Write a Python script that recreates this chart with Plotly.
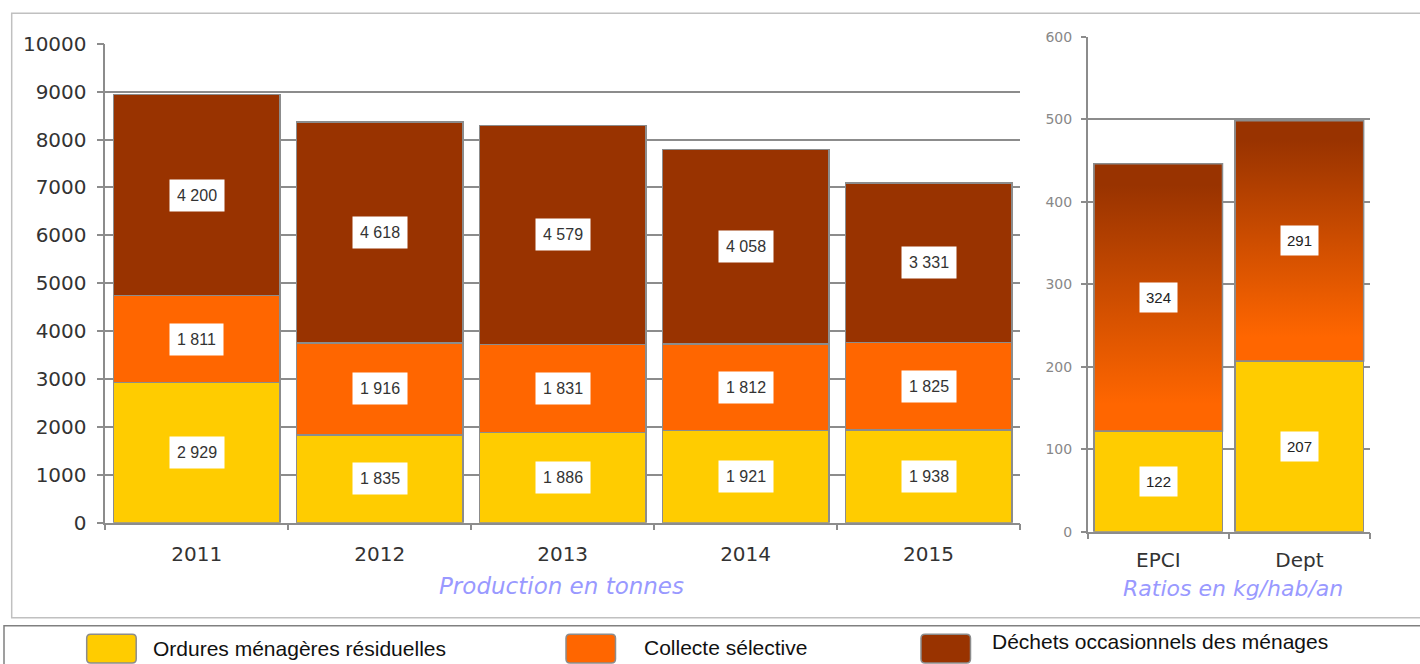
import plotly.graph_objects as go

W, H = 1420, 664

# ---------------- data ----------------
years = ['2011', '2012', '2013', '2014', '2015']
omr = [2929, 1835, 1886, 1921, 1938]          # Ordures ménagères résiduelles (t)
cs = [1811, 1916, 1831, 1812, 1825]           # Collecte sélective (t)
dom = [4200, 4618, 4579, 4058, 3331]          # Déchets occasionnels des ménages (t)

ratio_cats = ['EPCI', 'Dept']
ratio_omr = [122, 207]                        # kg/hab/an
ratio_other = [324, 291]                      # kg/hab/an

series_names = ['Ordures ménagères résiduelles', 'Collecte sélective',
                'Déchets occasionnels des ménages']
left_title = 'Production en tonnes'
right_title = 'Ratios en kg/hab/an'

# ---------------- style ----------------
YEL, ORA, BRN = '#ffcc00', '#ff6600', '#993300'
colors = [YEL, ORA, BRN]
EDGE = '#8c8c8c'
GRID = '#8c8c8c'
BARGAP = 0.09


def px(x):
    return x / W


def py(y):
    return 1 - y / H


def fmt(v):
    return f'{v:,}'.replace(',', ' ')


fig = go.Figure()

# left stacked bars
for vals, col, name in zip([omr, cs, dom], colors, series_names):
    fig.add_trace(go.Bar(x=years, y=vals, name=name, marker=dict(color=col, line=dict(color=EDGE, width=1.5)),
                         xaxis='x', yaxis='y', showlegend=False, hoverinfo='y'))

# right stacked bars
fig.add_trace(go.Bar(x=ratio_cats, y=ratio_omr, marker=dict(color=YEL, line=dict(color=EDGE, width=1.5)),
                     xaxis='x2', yaxis='y2', showlegend=False))
fig.add_trace(go.Bar(x=ratio_cats, y=ratio_other, marker=dict(color=ORA, line=dict(color=EDGE, width=1.5)),
                     xaxis='x2', yaxis='y2', showlegend=False))

# gradient overlay for right upper segments (same geometry as bars, on an overlaid numeric axis)
half = (1 - BARGAP) / 2
for i, (b, v) in enumerate(zip(ratio_omr, ratio_other)):
    top = b + v
    fig.add_trace(go.Scatter(
        x=[i - half, i + half, i + half, i - half, i - half],
        y=[b, b, top, top, b],
        mode='lines', fill='toself',
        line=dict(color=EDGE, width=1.5),
        fillgradient=dict(type='vertical',
                          colorscale=[[0, ORA], [0.1, ORA], [0.92, BRN], [1, BRN]]),
        xaxis='x3', yaxis='y2', showlegend=False, hoverinfo='skip'))

annotations = []
# left labels (x given as category index)
for i, yr in enumerate(years):
    base = 0
    for vals in (omr, cs, dom):
        v = vals[i]
        annotations.append(dict(x=i, y=base + v / 2, xref='x', yref='y', text=fmt(v), showarrow=False,
                                font=dict(family='Liberation Sans, Arial', size=16, color='#333333'),
                                bgcolor='white', borderpad=7))
        base += v
# right labels
for i, c in enumerate(ratio_cats):
    base = 0
    for vals in (ratio_omr, ratio_other):
        v = vals[i]
        annotations.append(dict(x=i, y=base + v / 2, xref='x2', yref='y2', text=fmt(v), showarrow=False,
                                font=dict(family='Liberation Sans, Arial', size=15, color='#222222'),
                                bgcolor='white', borderpad=6))
        base += v

# subtitles
annotations.append(dict(x=px(561), y=py(586), xref='paper', yref='paper', text=f'<i>{left_title}</i>',
                        showarrow=False, xanchor='center', yanchor='middle',
                        font=dict(family='DejaVu Sans', size=23, color='#9999ff')))
annotations.append(dict(x=px(1233), y=py(588), xref='paper', yref='paper', text=f'<i>{right_title}</i>',
                        showarrow=False, xanchor='center', yanchor='middle',
                        font=dict(family='DejaVu Sans', size=22, color='#9999ff')))

shapes = []
# outer frame of chart area
shapes.append(dict(type='rect', xref='paper', yref='paper', x0=px(11.7), x1=px(1430), y0=py(617.7), y1=py(13.3),
                   line=dict(color='#c0c0c0', width=1.5), layer='below'))
# legend box
shapes.append(dict(type='rect', xref='paper', yref='paper', x0=px(4), x1=px(1430), y0=py(680), y1=py(625.7),
                   line=dict(color='#808080', width=1.5), layer='below'))


def rounded(x0, y0, x1, y1, r):
    pts = [(x0 + r, y0), (x1 - r, y0), (x1, y0 + r), (x1, y1 - r), (x1 - r, y1), (x0 + r, y1), (x0, y1 - r), (x0, y0 + r)]
    p = f'M {px(pts[0][0])},{py(pts[0][1])} L {px(pts[1][0])},{py(pts[1][1])} '
    p += f'Q {px(x1)},{py(y0)} {px(pts[2][0])},{py(pts[2][1])} L {px(pts[3][0])},{py(pts[3][1])} '
    p += f'Q {px(x1)},{py(y1)} {px(pts[4][0])},{py(pts[4][1])} L {px(pts[5][0])},{py(pts[5][1])} '
    p += f'Q {px(x0)},{py(y1)} {px(pts[6][0])},{py(pts[6][1])} L {px(pts[7][0])},{py(pts[7][1])} '
    p += f'Q {px(x0)},{py(y0)} {px(pts[0][0])},{py(pts[0][1])} Z'
    return p


legend_marker_x = [86.7, 566, 921]
legend_text_x = [150.7, 642, 990]
legend_text_y = [648, 647, 641]
for name, col, mx, tx, ty in zip(series_names, colors, legend_marker_x, legend_text_x, legend_text_y):
    shapes.append(dict(type='path', xref='paper', yref='paper', path=rounded(mx, 634.3, mx + 49.5, 663, 4),
                       fillcolor=col, line=dict(color='#8c8c8c', width=1.5)))
    annotations.append(dict(x=px(tx), y=py(ty), xref='paper', yref='paper', text=name, showarrow=False,
                            xanchor='left', yanchor='middle',
                            font=dict(family='Liberation Sans, Arial', size=21, color='#111111')))

axis_common = dict(showline=True, linecolor=GRID, linewidth=1.5, ticks='outside', tickcolor=GRID, tickwidth=1.5,
                   zeroline=False, fixedrange=True, automargin=False)

fig.update_layout(
    width=W, height=H, autosize=False,
    margin=dict(l=0, r=0, t=0, b=0, autoexpand=False),
    paper_bgcolor='white', plot_bgcolor='white',
    barmode='stack', bargap=BARGAP,
    showlegend=False,
    font=dict(family='DejaVu Sans', color='#333333'),
    xaxis=dict(domain=[px(105.3), px(1020)], anchor='y', type='category', range=[-0.5, len(years) - 0.5],
               tickson='boundaries', ticklen=6, tickangle=0,
               showgrid=False, tickfont=dict(size=20, color='#333333'), ticklabelstandoff=13, **axis_common),
    yaxis=dict(domain=[py(522.7), py(43.7)], anchor='x', range=[0, 10000], dtick=1000, ticklen=7, tickformat='d',
               showgrid=True, gridcolor=GRID, gridwidth=1.5, tickfont=dict(size=20, color='#333333'),
               ticklabelstandoff=6, **axis_common),
    xaxis2=dict(domain=[px(1087.7), px(1370)], anchor='y2', type='category', range=[-0.5, len(ratio_cats) - 0.5],
                tickson='boundaries', ticklen=6, tickangle=0,
                showgrid=False, tickfont=dict(size=20, color='#333333'), ticklabelstandoff=10, **axis_common),
    yaxis2=dict(domain=[py(531.7), py(36.7)], anchor='x2', range=[0, 600], dtick=100, ticklen=5, tickformat='d',
                showgrid=True, gridcolor=GRID, gridwidth=1.5, tickfont=dict(size=14, color='#888888'),
                ticklabelstandoff=6, **axis_common),
    xaxis3=dict(overlaying='x2', anchor='y2', range=[-0.5, len(ratio_cats) - 0.5], visible=False, fixedrange=True),
    annotations=annotations,
    shapes=shapes,
)

fig.write_html('out.html', config={'displayModeBar': False},
               post_script="document.body.style.margin='0';document.body.style.overflow='hidden';")
